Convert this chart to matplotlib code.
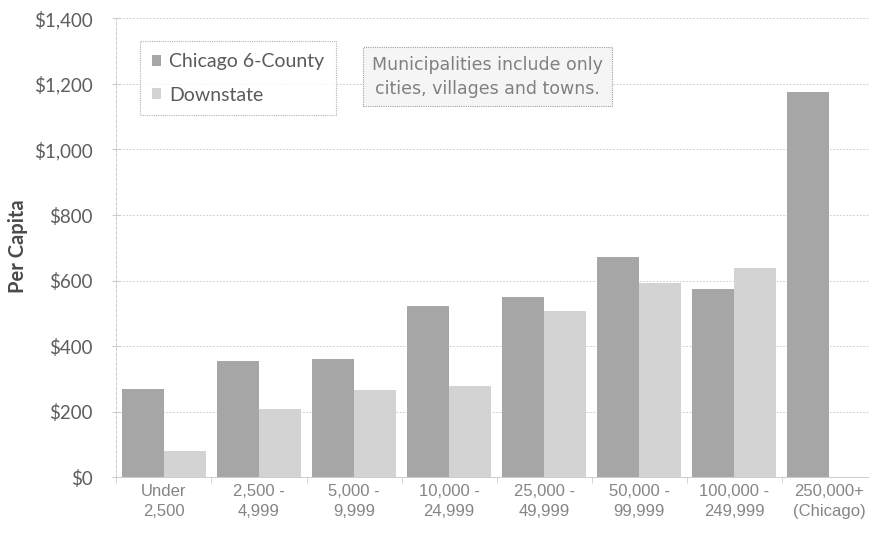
import matplotlib.pyplot as plt
import numpy as np

# population size classes
categories = ["Under\n2,500", "2,500 -\n4,999", "5,000 -\n9,999", "10,000 -\n24,999",
              "25,000 -\n49,999", "50,000 -\n99,999", "100,000 -\n249,999", "250,000+\n(Chicago)"]
chicago = [268, 354, 362, 522, 551, 673, 573, 1175]
downstate = [80, 208, 266, 279, 508, 594, 637]  # no downstate city above 250,000
yticks = [0, 200, 400, 600, 800, 1000, 1200, 1400]

fig = plt.figure(figsize=(8.69, 5.41), dpi=100)
ax = fig.add_axes([0.134, 0.118, 0.875, 0.848])

x = np.arange(len(categories))
w = 0.44
ax.bar(x - w/2, chicago, w, color='#a6a6a6', label='Chicago 6-County', zorder=2)
ax.bar(x[:len(downstate)] + w/2, downstate, w, color='#d3d3d3', label='Downstate', zorder=2)

ax.set_xlim(-0.5, 7.5)
ax.set_ylim(0, 1400)
ax.set_yticks(yticks)
ax.set_yticklabels(['${:,}'.format(v) for v in yticks], fontfamily='Lato', fontsize=13.5, color='#5e5e5e')
ax.yaxis.grid(True, color='#c4c4c4', linestyle=(0, (2, 2)), linewidth=0.6, zorder=0)

# category labels centred, tick marks between groups
ax.set_xticks(x)
ax.set_xticklabels(categories, fontfamily='Liberation Sans', fontsize=12, color='#858585', linespacing=1.4)
ax.tick_params(axis='x', length=0, pad=5)
ax.set_xticks(np.arange(-0.5, 7.6, 1), minor=True)
ax.tick_params(axis='x', which='minor', length=4, color='#cccccc')
ax.tick_params(axis='y', direction='inout', length=6, color='#cccccc', pad=14)

for s in ['top', 'right']:
    ax.spines[s].set_visible(False)
ax.spines['left'].set_color('#cccccc')
ax.spines['left'].set_linestyle((0, (3, 2)))
ax.spines['left'].set_linewidth(0.7)
ax.spines['bottom'].set_color('#cccccc')
ax.spines['bottom'].set_linewidth(0.7)

fig.text(0.021, 0.545, 'Per Capita', rotation=90, ha='center', va='center',
         fontfamily='Lato', fontweight='bold', fontsize=14.5, color='#4a4a4a')

leg = ax.legend(loc='upper left', bbox_to_anchor=(0.031, 0.95), borderaxespad=0, frameon=True, fancybox=False,
                prop={'family': 'Lato', 'size': 14}, labelcolor='#5a5a5a',
                handlelength=0.5, handleheight=0.5, handletextpad=0.4,
                labelspacing=0.85, borderpad=0.6)
leg.get_frame().set_edgecolor('#a0a0a0')
leg.get_frame().set_linestyle((0, (1, 1)))
leg.get_frame().set_linewidth(0.8)

ax.text(0.488, 0.873, 'Municipalities include only\ncities, villages and towns.',
        transform=ax.transAxes, ha='center', va='center', fontfamily='DejaVu Sans',
        fontsize=12.5, color='#808080', linespacing=1.45,
        bbox=dict(boxstyle='square,pad=0.5', facecolor='#f5f5f5', edgecolor='#a0a0a0',
                  linestyle=(0, (1, 1)), linewidth=0.8))

fig.savefig('out.png', dpi=100)
